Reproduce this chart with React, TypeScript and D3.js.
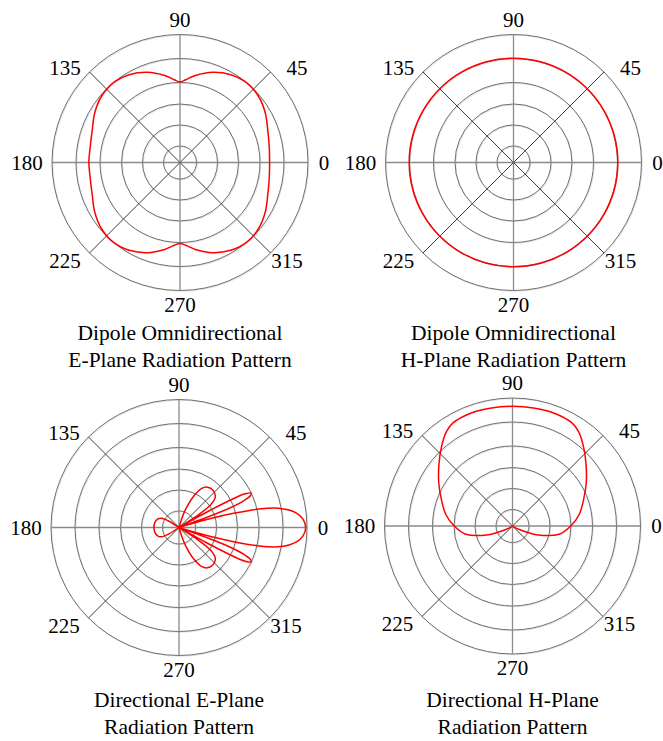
import React from "react";
import * as d3 from "d3";

// ring levels (fraction of outer radius)
const ringLevels = [0.129, 0.293, 0.457, 0.625, 0.8125, 1];
const spokeAngles = [0, 45, 90, 135, 180, 225, 270, 315];
const spokeLabels = ["0", "45", "90", "135", "180", "225", "270", "315"];

// dipole omnidirectional, E-plane
const dipoleEAngles = [0, 10, 20, 30, 40, 50, 60, 70, 80, 86, 90, 94, 100, 110, 120, 130, 140, 150, 160, 170, 180, 190, 200, 210, 220, 230, 240, 250, 260, 266, 270, 274, 280, 290, 300, 310, 320, 330, 340, 350];
const dipoleEValues = [0.7, 0.708, 0.73, 0.77, 0.802, 0.812, 0.792, 0.75, 0.69, 0.648, 0.63, 0.648, 0.69, 0.75, 0.792, 0.812, 0.802, 0.77, 0.73, 0.712, 0.712, 0.712, 0.73, 0.77, 0.802, 0.812, 0.792, 0.75, 0.69, 0.648, 0.632, 0.648, 0.69, 0.75, 0.792, 0.812, 0.802, 0.77, 0.73, 0.708];

// dipole omnidirectional, H-plane
const dipoleHAngles = [0, 15, 30, 45, 60, 75, 90, 105, 120, 135, 150, 165, 180, 195, 210, 225, 240, 255, 270, 285, 300, 315, 330, 345];
const dipoleHValues = [0.815, 0.815, 0.815, 0.815, 0.815, 0.815, 0.815, 0.815, 0.815, 0.815, 0.815, 0.815, 0.815, 0.815, 0.815, 0.815, 0.815, 0.815, 0.815, 0.815, 0.815, 0.815, 0.815, 0.815];

// directional, E-plane
const dirEAngles = [0, 4, 7, 9, 11, 13, 14.5, 16, 17.5, 18.5, 20, 21, 22.5, 24, 25.5, 27, 28, 29, 30, 31, 33, 36, 40, 45, 50, 55, 60, 65, 70, 73, 75, 145, 148, 152, 158, 168, 180, 192, 202, 208, 212, 215, 285, 287, 290, 295, 300, 305, 310, 315, 320, 324, 327, 329, 330, 331, 332, 333, 334.5, 336, 337.5, 339, 340, 341.5, 342.5, 344, 345.5, 347, 349, 351, 353, 356];
const dirEValues = [0.99, 0.97, 0.925, 0.87, 0.79, 0.64, 0.45, 0.25, 0.08, 0, 0.2, 0.42, 0.55, 0.61, 0.625, 0.58, 0.47, 0.25, 0.05, 0, 0.18, 0.31, 0.37, 0.39, 0.395, 0.385, 0.35, 0.27, 0.15, 0.06, 0, 0, 0.1, 0.155, 0.178, 0.192, 0.196, 0.192, 0.178, 0.155, 0.1, 0, 0, 0.06, 0.15, 0.27, 0.35, 0.385, 0.395, 0.39, 0.37, 0.31, 0.18, 0, 0.05, 0.25, 0.47, 0.58, 0.625, 0.61, 0.55, 0.42, 0.2, 0, 0.08, 0.25, 0.45, 0.64, 0.79, 0.87, 0.925, 0.97];

// directional, H-plane
const dirHAngles = [0, 10, 20, 30, 40, 48, 55, 60, 70, 80, 90, 100, 110, 120, 125, 132, 140, 150, 160, 170, 180, 190, 200, 207, 215, 270, 325, 333, 340, 350];
const dirHValues = [0.455, 0.53, 0.59, 0.665, 0.75, 0.83, 0.9, 0.93, 0.94, 0.937, 0.935, 0.937, 0.94, 0.93, 0.9, 0.83, 0.75, 0.665, 0.59, 0.53, 0.455, 0.37, 0.2, 0.07, 0.02, 0, 0.02, 0.07, 0.2, 0.37];

const panels = [
  { cx: 180, cy: 162.5, angles: dipoleEAngles, values: dipoleEValues, title: ["Dipole Omnidirectional", "E-Plane Radiation Pattern"], ty: 340 },
  { cx: 513.5, cy: 162.5, angles: dipoleHAngles, values: dipoleHValues, title: ["Dipole Omnidirectional", "H-Plane Radiation Pattern"], ty: 340 },
  { cx: 179, cy: 527.5, angles: dirEAngles, values: dirEValues, title: ["Directional E-Plane", "Radiation Pattern"], ty: 707 },
  { cx: 512.5, cy: 526, angles: dirHAngles, values: dirHValues, title: ["Directional H-Plane", "Radiation Pattern"], ty: 707 },
];

// label centre offsets from the plot centre
const labelOffset = {
  0: [144, 0],
  45: [117, -95],
  90: [0, -143],
  135: [-115, -95],
  180: [-153, 0],
  225: [-115, 98],
  270: [0, 142],
  315: [107, 98],
};

const R = 128;
const font = "'Liberation Serif', 'Times New Roman', serif";

const Polar = ({ cx, cy, angles, values, title, ty }) => {
  const r = d3.scaleLinear().domain([0, 1]).range([0, R]);
  const toRad = (deg) => (deg * Math.PI) / 180;
  const pts = angles.map((a, i) => ({ a, v: values[i] }));
  const line = d3
    .lineRadial()
    .angle((d) => Math.PI / 2 - toRad(d.a))
    .radius((d) => r(d.v))
    .curve(d3.curveCatmullRomClosed.alpha(0.5));

  return (
    <g>
      <g transform={`translate(${cx},${cy})`}>
        {ringLevels.map((lv) => (
          <circle key={"s" + lv} cx={0.8} cy={0.8} r={r(lv)} fill="none" stroke="#e4e4e4" strokeWidth={1} />
        ))}
        {ringLevels.map((lv) => (
          <circle key={lv} r={r(lv)} fill="none" stroke="#6e6e6e" strokeWidth={1} />
        ))}
        {spokeAngles.map((a) => (
          <line
            key={a}
            x1={0}
            y1={0}
            x2={r(1) * Math.cos(toRad(a))}
            y2={-r(1) * Math.sin(toRad(a))}
            stroke={a % 90 === 0 ? "#8a8a8a" : "#3c3c3c"}
            strokeWidth={a % 90 === 0 ? 1.3 : 1}
          />
        ))}
        <path d={line(pts)} fill="none" stroke="#ff0000" strokeWidth={1.5} />
        {spokeAngles.map((a, i) => (
          <text
            key={"l" + a}
            x={labelOffset[a][0]}
            y={labelOffset[a][1] + 7}
            textAnchor="middle"
            style={{ fontFamily: font, fontSize: "21px" }}
            fill="#000"
          >
            {spokeLabels[i]}
          </text>
        ))}
      </g>
      {title.map((t, i) => (
        <text key={t} x={cx} y={ty + i * 27} textAnchor="middle" style={{ fontFamily: font, fontSize: "21.5px" }} fill="#000">
          {t}
        </text>
      ))}
    </g>
  );
};

export default function App() {
  return (
    <svg
      width={663}
      height={741}
      style={{ position: "absolute", left: 0, top: 0, background: "#fff" }}
    >
      {panels.map((p, i) => (
        <Polar key={i} {...p} />
      ))}
    </svg>
  );
}
